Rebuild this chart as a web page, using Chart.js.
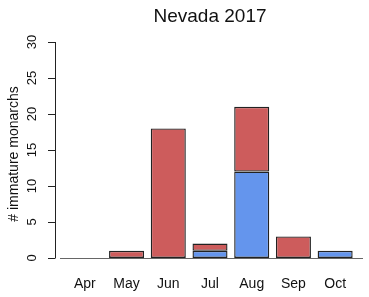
<!DOCTYPE html>
<html>
<head>
<meta charset="utf-8">
<script src="https://cdn.jsdelivr.net/npm/chart.js@4"></script>
<style>
  html, body { margin: 0; padding: 0; background: #fff; }
  #wrap { width: 369px; height: 297px; }
</style>
</head>
<body>
<div id="wrap"><canvas id="chart" width="369" height="297"></canvas></div>
<script>
// Data
const months = ['Apr', 'May', 'Jun', 'Jul', 'Aug', 'Sep', 'Oct'];
const blueCounts = [0, 0, 0, 1, 12, 0, 1];
const redCounts = [0, 1, 18, 1, 9, 3, 0];
const yTicks = [0, 5, 10, 15, 20, 25, 30];
const titleText = 'Nevada 2017';
const yLabel = '# immature monarchs';

const FONT = '"Liberation Sans", Arial, sans-serif';

// R-style axes, labels and title drawn from the chart scales
const rAxes = {
    id: 'rAxes',
    beforeDatasetsDraw(chart) {
        const ctx = chart.ctx;
        const y = chart.scales.y;
        const y0 = y.getPixelForValue(0);
        ctx.save();
        ctx.strokeStyle = '#666';
        ctx.lineWidth = 1;
        ctx.beginPath();
        ctx.moveTo(60, Math.round(y0) + 0.5);
        ctx.lineTo(363, Math.round(y0) + 0.5);
        ctx.stroke();
        ctx.restore();
    },
    afterDraw(chart) {
        const ctx = chart.ctx;
        const x = chart.scales.x;
        const y = chart.scales.y;
        const axisX = 55.5;
        ctx.save();
        ctx.strokeStyle = '#222';
        ctx.lineWidth = 1;
        ctx.beginPath();
        ctx.moveTo(axisX, y.getPixelForValue(yTicks[0]));
        ctx.lineTo(axisX, y.getPixelForValue(yTicks[yTicks.length - 1]));
        yTicks.forEach(v => {
            const py = Math.round(y.getPixelForValue(v)) + 0.5;
            ctx.moveTo(48, py);
            ctx.lineTo(axisX, py);
        });
        ctx.stroke();

        ctx.fillStyle = '#111';
        // y tick labels, rotated
        ctx.font = '13px ' + FONT;
        ctx.textAlign = 'center';
        ctx.textBaseline = 'alphabetic';
        yTicks.forEach(v => {
            ctx.save();
            ctx.translate(36, y.getPixelForValue(v));
            ctx.rotate(-Math.PI / 2);
            ctx.fillText(String(v), 0, 0);
            ctx.restore();
        });

        // y axis title
        ctx.save();
        ctx.font = '14px ' + FONT;
        ctx.translate(18, (y.top + y.bottom) / 2 + 4);
        ctx.rotate(-Math.PI / 2);
        ctx.fillText(yLabel, 0, 0);
        ctx.restore();

        // month labels
        ctx.font = '14px ' + FONT;
        months.forEach((m, i) => {
            ctx.fillText(m, x.getPixelForValue(i), 288);
        });

        // title
        ctx.font = '19px ' + FONT;
        ctx.fillText(titleText, (chart.chartArea.left + chart.chartArea.right) / 2, 22);
        ctx.restore();
    }
};

new Chart(document.getElementById('chart').getContext('2d'), {
    type: 'bar',
    data: {
        labels: months,
        datasets: [
            {
                label: 'blue',
                data: blueCounts,
                backgroundColor: '#6495ED',
                borderColor: '#222',
                borderWidth: 1.4,
                borderSkipped: false
            },
            {
                label: 'red',
                data: redCounts,
                backgroundColor: '#CD5C5C',
                borderColor: '#222',
                borderWidth: 1.4,
                borderSkipped: false
            }
        ]
    },
    options: {
        responsive: false,
        animation: false,
        layout: { padding: { left: 64, right: 13, top: 42, bottom: 39 } },
        datasets: { bar: { categoryPercentage: 1, barPercentage: 0.84 } },
        scales: {
            x: { display: false, stacked: true },
            y: { display: false, stacked: true, min: 0, max: 30 }
        },
        plugins: {
            legend: { display: false },
            tooltip: { enabled: false },
            title: { display: false }
        }
    },
    plugins: [rAxes]
});
</script>
</body>
</html>
